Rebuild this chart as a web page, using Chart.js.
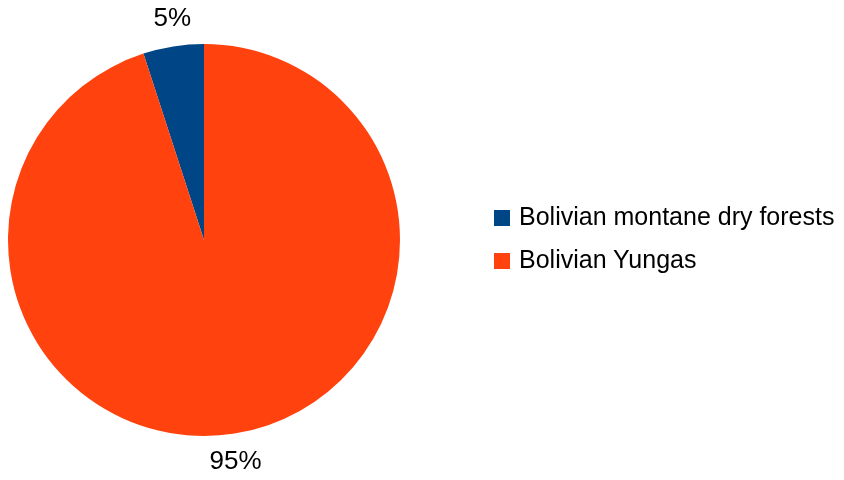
<!DOCTYPE html>
<html>
<head>
<meta charset="utf-8">
<script src="https://cdn.jsdelivr.net/npm/chart.js@4/dist/chart.umd.min.js"></script>
<style>
    html, body { margin: 0; padding: 0; background: #fff; }
    #wrap { position: relative; width: 844px; height: 480px; }
    #legend { position: absolute; left: 494px; top: 195px; font-family: "Liberation Sans", Arial, sans-serif; font-size: 25px; color: #000; }
    #legend div { height: 43px; line-height: 43px; white-space: nowrap; }
    #legend span { display: inline-block; width: 16px; height: 16px; margin-right: 9px; vertical-align: -1px; }
</style>
</head>
<body>
<div id="wrap">
    <canvas id="pie-chart" width="844" height="480"></canvas>
    <div id="legend"></div>
</div>
<script>
const labels = ['Bolivian montane dry forests', 'Bolivian Yungas'];
const values = [5, 95];
const colors = ['#004586', '#ff420e'];

// ------------------- Percent labels ------------------
const percentLabels = {
    id: 'percentLabels',
    afterDatasetsDraw(chart) {
        const ctx = chart.ctx;
        const meta = chart.getDatasetMeta(0);
        const total = values.reduce((a, b) => a + b, 0);
        ctx.save();
        ctx.font = '26px "Liberation Sans", Arial, sans-serif';
        ctx.fillStyle = '#000';
        ctx.textAlign = 'center';
        ctx.textBaseline = 'middle';
        meta.data.forEach((arc, i) => {
            const mid = (arc.startAngle + arc.endAngle) / 2;
            const r = arc.outerRadius + 6;
            const x = arc.x + Math.cos(mid) * r;
            let y = arc.y + Math.sin(mid) * r;
            y += Math.sign(Math.sin(mid)) * 22;
            ctx.fillText(Math.round(values[i] / total * 100) + '%', x, y);
        });
        ctx.restore();
    }
};

const data = {
    labels: labels,
    datasets: [{
        data: values,
        backgroundColor: colors,
        borderWidth: 0
    }]
};

const config = {
    type: 'pie',
    data: data,
    options: {
        responsive: false,
        animation: false,
        rotation: -18,
        layout: { padding: { left: 8, top: 44, right: 444, bottom: 44 } },
        plugins: {
            legend: { display: false },
            tooltip: { enabled: false }
        }
    },
    plugins: [percentLabels]
};

new Chart(document.getElementById('pie-chart'), config);

// ------------------- Legend ------------------
const legend = document.getElementById('legend');
labels.forEach((l, i) => {
    const row = document.createElement('div');
    row.innerHTML = '<span style="background:' + colors[i] + '"></span>' + l;
    legend.appendChild(row);
});
</script>
</body>
</html>
